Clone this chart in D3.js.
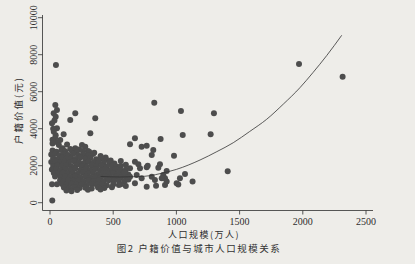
<!DOCTYPE html>
<meta charset="utf-8">
<script src="https://d3js.org/d3.v7.min.js"></script>
<style>
  body { margin: 0; background: #eeede9; }
</style>
<div id="my_dataviz"></div>
<script>

// tick values
var xTicks = [0, 500, 1000, 1500, 2000, 2500];
var yTicks = [0, 2000, 4000, 6000, 8000, 10000];

// cities: [population (10k), hukou value (yuan)]
var cities = [
  // top column and upper outliers
  [47,7450],[42,5280],[55,5010],[29,4830],[45,4650],[35,4450],[16,4290],[55,4020],[25,4000],
  [30,3840],[45,3650],[40,3480],[20,3400],[81,3390],[108,3700],[60,3250],
  [200,4830],[160,4470],[358,4560],[319,3750],
  // top fringe of the cluster
  [20,3200],[70,3120],[135,3150],[200,2940],[253,3120],[279,3030],[230,2880],[160,2900],[100,2950],[300,2800],
  // dense cluster
  [20,2820],[50,2760],[90,2850],[120,2780],[170,2830],[210,2740],[260,2800],[310,2760],[350,2700],
  [10,2600],[40,2640],[75,2560],[110,2620],[145,2580],[185,2650],[225,2570],[265,2610],[300,2550],[340,2630],[400,2520],[440,2450],
  [25,2400],[60,2350],[95,2430],[130,2380],[165,2420],[200,2360],[240,2440],[280,2380],[320,2410],[365,2350],[410,2400],[443,2330],[480,2280],
  [10,2200],[45,2230],[80,2170],[115,2210],[150,2160],[190,2240],[230,2190],[270,2150],[305,2220],[345,2170],[385,2200],[425,2140],[470,2190],[510,2120],
  [25,1990],[60,2030],[95,1980],[130,2010],[170,1960],[210,2040],[250,1990],[290,1950],[330,2020],[370,1970],[410,2000],[450,1940],[490,2010],[527,1950],[560,1990],
  [15,1790],[50,1820],[85,1770],[120,1810],[160,1780],[200,1830],[240,1760],[280,1800],[320,1770],[360,1820],[400,1760],[440,1800],[480,1750],[520,1790],[560,1740],[600,1780],
  [30,1610],[65,1570],[100,1620],[140,1580],[180,1600],[220,1560],[260,1630],[300,1580],[340,1600],[380,1550],[420,1610],[460,1570],[500,1600],[540,1550],[580,1580],[620,1530],
  [40,1420],[85,1390],[120,1430],[160,1370],[200,1410],[240,1380],[280,1420],[320,1360],[360,1400],[400,1370],[440,1410],[480,1350],[520,1400],[560,1360],[600,1390],
  [80,1210],[110,1170],[145,1220],[185,1180],[225,1200],[265,1160],[305,1210],[345,1170],[385,1200],[425,1160],[465,1210],[505,1170],[545,1200],[590,1160],
  [95,1010],[130,970],[170,1020],[210,980],[250,1000],[290,960],[330,1010],[370,970],[410,1000],[450,950],[500,990],[545,960],
  [110,820],[150,780],[190,830],[235,790],[280,810],[330,770],[380,820],[430,790],[490,840],
  [130,660],[170,620],[215,680],[300,700],[400,710],
  [560,2250],[600,2050],[590,1650],[620,1250],[560,1000],[600,900],
  // low left
  [18,120],[16,1000],[55,1000],
  // right side of the cluster
  [633,3160],[672,3480],[725,3030],[765,3080],[817,2850],[805,2580],[875,3440],
  [672,2220],[699,2080],[712,1860],[633,1860],[765,1910],[773,2000],[857,1890],[870,2080],[923,1710],
  [686,1500],[633,1400],[725,1320],[805,1400],[830,1230],[896,1500],[910,1320],[884,1320],
  [672,1050],[765,860],[839,920],[910,960],[1002,1050],[1028,1320],[1068,1550],[1128,1140],[1015,980],[923,1140],[981,2540],
  // outliers
  [825,5400],[1036,4960],[1297,4830],[1050,3660],[1271,3700],[1406,1700],[1970,7500],[2315,6810]
];

// fitted curve
var fitPop = [400, 550, 700, 800, 870, 1000, 1187, 1320, 1450, 1580, 1714, 1846, 1978, 2080, 2189, 2308];
var fitVal = [1420, 1390, 1410, 1470, 1570, 1800, 2308, 2760, 3243, 3850, 4508, 5330, 6222, 7030, 7951, 9049];

var W = 415, H = 264;
var ink = "#2e2e2e";
var serif = "'Liberation Serif', 'DejaVu Serif', serif";
var cjk = "'Noto Sans CJK SC', sans-serif";

var svg = d3.select("#my_dataviz")
  .append("svg")
    .attr("width", W)
    .attr("height", H);

svg.append("rect").attr("width", W).attr("height", H).attr("fill", "#eeede9");

var x = d3.scaleLinear().domain([0, 2500]).range([50, 366]);
var y = d3.scaleLinear().domain([0, 10000]).range([202.7, 17.7]);

// axis lines
svg.append("line")
  .attr("x1", 42.5).attr("x2", 42.5).attr("y1", 15).attr("y2", 210.5)
  .attr("stroke", ink).attr("stroke-width", 0.8);
svg.append("line")
  .attr("x1", 42.5).attr("x2", 373).attr("y1", 210.5).attr("y2", 210.5)
  .attr("stroke", ink).attr("stroke-width", 0.8);

// y ticks
var yg = svg.append("g");
yg.selectAll("line").data(yTicks).enter().append("line")
  .attr("x1", 38).attr("x2", 42.5)
  .attr("y1", function(d) { return y(d) }).attr("y2", function(d) { return y(d) })
  .attr("stroke", ink).attr("stroke-width", 0.8);
yg.selectAll("text").data(yTicks).enter().append("text")
  .attr("transform", function(d) { return "translate(36.5," + y(d) + ") rotate(-90)" })
  .attr("text-anchor", "middle")
  .style("font-family", serif)
  .style("font-size", "10px")
  .attr("fill", ink)
  .text(function(d) { return d });

// x ticks
var xg = svg.append("g");
xg.selectAll("line").data(xTicks).enter().append("line")
  .attr("x1", function(d) { return x(d) }).attr("x2", function(d) { return x(d) })
  .attr("y1", 210.5).attr("y2", 214.5)
  .attr("stroke", ink).attr("stroke-width", 0.8);
xg.selectAll("text").data(xTicks).enter().append("text")
  .attr("x", function(d) { return x(d) })
  .attr("y", 224.5)
  .attr("text-anchor", "middle")
  .style("font-family", serif)
  .style("font-size", "10px")
  .attr("fill", ink)
  .text(function(d) { return d });

// points
svg.append("g")
  .selectAll("circle")
  .data(cities)
  .enter()
  .append("circle")
    .attr("cx", function(d) { return x(d[0]) })
    .attr("cy", function(d) { return y(d[1]) })
    .attr("r", 3)
    .attr("fill", "#4d4d4d");

// fitted line
svg.append("path")
  .datum(d3.range(fitPop.length))
  .attr("fill", "none")
  .attr("stroke", "#333")
  .attr("stroke-width", 0.8)
  .attr("d", d3.line()
    .curve(d3.curveMonotoneX)
    .x(function(i) { return x(fitPop[i]) })
    .y(function(i) { return y(fitVal[i]) }));

// titles
svg.append("text")
  .attr("transform", "translate(22,110) rotate(-90)")
  .attr("text-anchor", "middle")
  .style("font-family", cjk)
  .style("font-size", "9.5px")
  .style("letter-spacing", "2px")
  .attr("fill", ink)
  .text("户籍价值(元)");

svg.append("text")
  .attr("x", 204).attr("y", 237.5)
  .attr("text-anchor", "middle")
  .style("font-family", cjk)
  .style("font-size", "9px")
  .style("letter-spacing", "1.5px")
  .attr("fill", ink)
  .text("人口规模(万人)");

svg.append("text")
  .attr("x", 199).attr("y", 251.5)
  .attr("text-anchor", "middle")
  .style("font-family", cjk)
  .style("font-size", "9.5px")
  .style("letter-spacing", "1.5px")
  .attr("fill", "#333")
  .text("图2   户籍价值与城市人口规模关系");

</script>
